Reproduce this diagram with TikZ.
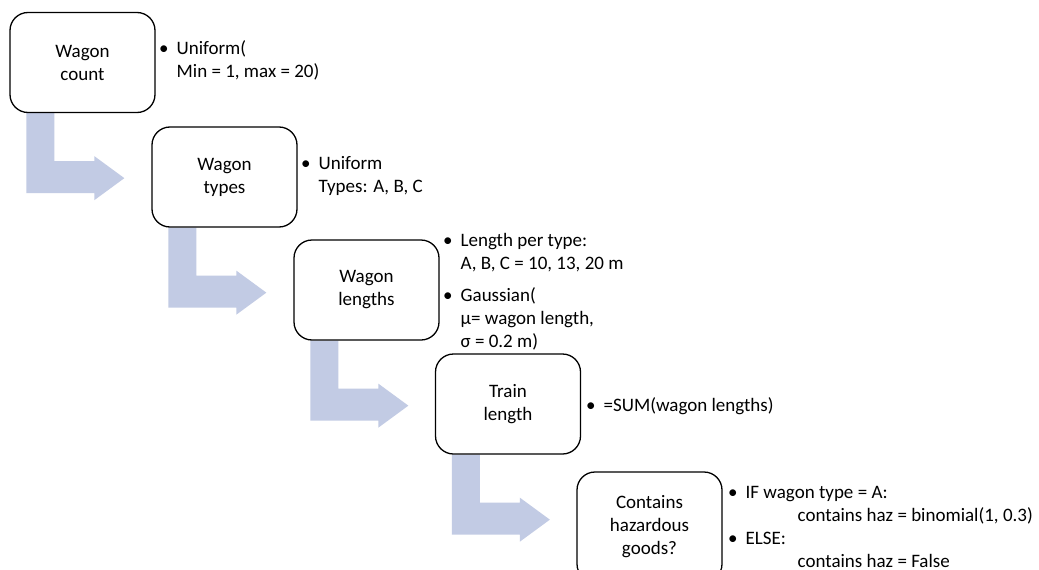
\documentclass[tikz,border=0pt]{standalone}
\usepackage{fontspec}
\setmainfont{Carlito}
\usetikzlibrary{calc}
\pgfdeclarelayer{background}
\pgfsetlayers{background,main}
\definecolor{flowblue}{RGB}{194,203,228}
\tikzset{
  stagebox/.style={draw=black, line width=1.3pt, fill=white, rounded corners=18pt,
    minimum width=145pt, minimum height=100pt, align=center, inner sep=0pt,
    font=\fontsize{19}{23}\selectfont},
  notetext/.style={anchor=west, inner sep=0pt, align=left,
    font=\fontsize{19}{23}\selectfont},
  bentarrow/.style={fill=flowblue, draw=none}
}
% bent block arrow hanging below a stage box and pointing right
\newcommand{\stagearrow}[1]{%
  \fill[bentarrow]
    ($(#1.south west)+(17,0)$) -- ($(#1.south west)+(45,0)$) --
    ($(#1.south west)+(45,48)$) -- ($(#1.south west)+(85,48)$) --
    ($(#1.south west)+(85,43)$) -- ($(#1.south west)+(115,65)$) --
    ($(#1.south west)+(85,87)$) -- ($(#1.south west)+(85,80)$) --
    ($(#1.south west)+(17,80)$) -- cycle;}
\newcommand{\bul}{\textbullet}
\begin{document}
\begin{tikzpicture}[x=1pt, y=-1pt]
  \useasboundingbox (0,0) rectangle (1039,570);
  \clip (0,0) rectangle (1039,570);
  \begin{pgfonlayer}{background}
    \fill[white] (0,0) rectangle (1039,570);
  \end{pgfonlayer}

  % stage boxes
  \node[stagebox] (b1) at (82.5,62.5)  {Wagon\\count};
  \node[stagebox] (b2) at (224.5,177) {Wagon\\types};
  \node[stagebox] (b3) at (366.5,290) {Wagon\\lengths};
  \node[stagebox] (b4) at (508,404)   {Train\\length};
  \node[stagebox, minimum height=110pt] (b5) at (649.5,527) {Contains\\hazardous\\goods?};

  % arrows between stages, kept under the boxes
  \begin{pgfonlayer}{background}
    \stagearrow{b1}
    \stagearrow{b2}
    \stagearrow{b3}
    \stagearrow{b4}
  \end{pgfonlayer}

  % notes beside each stage
  \node[notetext] (n1) at (159,61.5) {%
    \begin{tabular}{@{}l@{\hspace{8pt}}l@{}}
      \bul & Uniform(\\
           & Min = 1, max = 20)
    \end{tabular}};
  \node[notetext] (n2) at (301,176) {%
    \begin{tabular}{@{}l@{\hspace{8pt}}l@{}}
      \bul & Uniform\\
           & Types: A, B, C
    \end{tabular}};
  \node[notetext] (n3) at (443,292) {%
    \begin{tabular}{@{}l@{\hspace{8pt}}l@{}}
      \bul & Length per type:\\
           & A, B, C = 10, 13, 20 m\\[9pt]
      \bul & Gaussian(\\
           & μ= wagon length,\\
           & σ = 0.2 m)
    \end{tabular}};
  \node[notetext] (n4) at (586,407) {%
    \begin{tabular}{@{}l@{\hspace{8pt}}l@{}}
      \bul & =SUM(wagon lengths)
    \end{tabular}};
  \node[notetext] (n5) at (728,528) {%
    \begin{tabular}{@{}l@{\hspace{8pt}}l@{}}
      \bul & IF wagon type = A:\\
           & \hspace*{52pt}contains haz = binomial(1, 0.3)\\
      \bul & ELSE:\\
           & \hspace*{52pt}contains haz = False
    \end{tabular}};
\end{tikzpicture}
\end{document}
